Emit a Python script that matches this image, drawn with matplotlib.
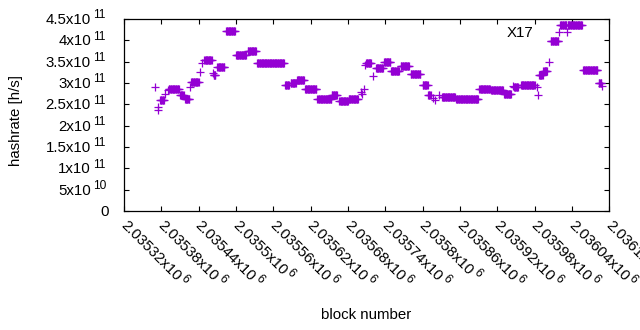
import numpy as np
import matplotlib
matplotlib.use('Agg')
import matplotlib.pyplot as plt
from matplotlib import transforms
from matplotlib.font_manager import FontProperties

# ---- data: runs of consecutive blocks sharing the same hashrate (units 1e11 h/s)
run_start = [2035370, 2035374, 2035375, 2035378, 2035386, 2035390, 2035392, 2035410,
             2035418, 2035426, 2035428, 2035442, 2035446, 2035449, 2035463, 2035464,
             2035470, 2035484, 2035500, 2035519, 2035534, 2035579, 2035588, 2035598,
             2035611, 2035631, 2035654, 2035666, 2035681, 2035701, 2035703, 2035706,
             2035708, 2035709, 2035721, 2035725, 2035738, 2035749, 2035765, 2035781,
             2035800, 2035809, 2035817, 2035820, 2035826, 2035831, 2035854, 2035891,
             2035910, 2035931, 2035945, 2035947, 2035958, 2035983, 2035985, 2035987,
             2035994, 2036003, 2036006, 2036021, 2036032, 2036033, 2036058, 2036083,
             2036089]
run_end = [2035370, 2035374, 2035375, 2035384, 2035386, 2035390, 2035408, 2035416,
           2035425, 2035426, 2035440, 2035442, 2035446, 2035461, 2035463, 2035467,
           2035481, 2035498, 2035516, 2035532, 2035577, 2035585, 2035596, 2035609,
           2035629, 2035653, 2035662, 2035680, 2035696, 2035701, 2035703, 2035706,
           2035708, 2035717, 2035721, 2035736, 2035748, 2035762, 2035778, 2035796,
           2035808, 2035813, 2035817, 2035820, 2035826, 2035852, 2035889, 2035908,
           2035929, 2035942, 2035945, 2035953, 2035980, 2035983, 2035985, 2035993,
           2036000, 2036003, 2036018, 2036031, 2036032, 2036056, 2036081, 2036087,
           2036089]
run_hashrate = [2.91, 2.43, 2.36, 2.60, 2.75, 2.84, 2.86, 2.71,
                2.62, 2.90, 3.03, 3.26, 3.46, 3.53, 3.24, 3.19,
                3.37, 4.21, 3.65, 3.76, 3.46, 2.96, 3.00, 3.08,
                2.85, 2.63, 2.72, 2.58, 2.62, 2.78, 2.74, 2.87,
                3.42, 3.46, 3.16, 3.35, 3.50, 3.29, 3.41, 3.20,
                2.95, 2.73, 2.66, 2.60, 2.73, 2.67, 2.62, 2.86,
                2.83, 2.75, 2.93, 2.91, 2.95, 2.91, 2.73, 3.18,
                3.29, 3.50, 3.98, 4.35, 4.19, 4.35, 3.30, 3.00,
                2.92]
series_label = 'X17'

y_ticks = [0, 0.5e11, 1.0e11, 1.5e11, 2.0e11, 2.5e11, 3.0e11, 3.5e11, 4.0e11, 4.5e11]
y_tick_mant = ['0', '5x10', '1x10', '1.5x10', '2x10', '2.5x10', '3x10', '3.5x10', '4x10', '4.5x10']
y_tick_exp = ['', '10', '11', '11', '11', '11', '11', '11', '11', '11']

x_ticks = [2035320, 2035380, 2035440, 2035500, 2035560, 2035620, 2035680,
           2035740, 2035800, 2035860, 2035920, 2035980, 2036040, 2036100]
x_tick_mant = ['2.03532x10', '2.03538x10', '2.03544x10', '2.0355x10', '2.03556x10',
               '2.03562x10', '2.03568x10', '2.03574x10', '2.0358x10', '2.03586x10',
               '2.03592x10', '2.03598x10', '2.03604x10', '2.0361x10']
x_tick_exp = ['6'] * 14

FONT = 'Liberation Sans'
FS = 10.8
FS_EXP = 8.6
COLOR = '#9400d3'

plt.rcParams['font.family'] = [FONT, 'DejaVu Sans']

fig = plt.figure(figsize=(6.4, 3.3), dpi=100)
W, H = 640, 330
ax_l, ax_r, ax_t, ax_b = 124, 609.3, 19, 211
ax = fig.add_axes([ax_l / W, 1 - ax_b / H, (ax_r - ax_l) / W, (ax_b - ax_t) / H])

xs = np.concatenate([np.arange(s, e + 1) for s, e in zip(run_start, run_end)])
ys = np.concatenate([np.full(e - s + 1, v) for s, e, v in zip(run_start, run_end, run_hashrate)]) * 1e11

ax.plot(xs, ys, linestyle='none', marker='+', markersize=5.2, markeredgewidth=0.9,
        color=COLOR, label=series_label)

ax.set_xlim(x_ticks[0], x_ticks[-1])
ax.set_ylim(0, 4.5e11)
ax.set_xticks(x_ticks)
ax.set_yticks(y_ticks)
ax.tick_params(direction='in', length=3.3, width=0.8, top=True, right=True,
               labelbottom=False, labelleft=False, color='black')
for sp in ax.spines.values():
    sp.set_linewidth(0.9)
    sp.set_color('black')

# y tick labels (mantissa + raised exponent)
ytrans = transforms.blended_transform_factory(ax.transAxes, ax.transData)
for v, m, e in zip(y_ticks, y_tick_mant, y_tick_exp):
    if e:
        ax.text(0, v, m, transform=transforms.offset_copy(ytrans, fig=fig, x=-33, y=-5, units='dots'),
                ha='right', va='baseline', fontsize=FS, clip_on=False)
        ax.text(0, v, e, transform=transforms.offset_copy(ytrans, fig=fig, x=-31, y=0.7, units='dots'),
                ha='left', va='baseline', fontsize=FS_EXP, clip_on=False)
    else:
        ax.text(0, v, m, transform=transforms.offset_copy(ytrans, fig=fig, x=-15, y=-5, units='dots'),
                ha='right', va='baseline', fontsize=FS, clip_on=False)

# x tick labels rotated -45 deg (mantissa + raised exponent)
renderer = fig.canvas.get_renderer()
fp = FontProperties(family=[FONT, 'DejaVu Sans'], size=FS)
xtrans = transforms.blended_transform_factory(ax.transData, ax.transAxes)
c = np.sqrt(0.5)
base_dx, base_dy = -4.0, -15.0
gap, raise_ = 1.5, 5.7
for v, m, e in zip(x_ticks, x_tick_mant, x_tick_exp):
    ax.text(v, 0, m, transform=transforms.offset_copy(xtrans, fig=fig, x=base_dx, y=base_dy, units='dots'),
            rotation=-45, rotation_mode='anchor', ha='left', va='baseline', fontsize=FS, clip_on=False)
    w = renderer.get_text_width_height_descent(m, fp, ismath=False)[0]
    dx = base_dx + c * (w + gap) + c * raise_
    dy = base_dy - c * (w + gap) + c * raise_
    ax.text(v, 0, e, transform=transforms.offset_copy(xtrans, fig=fig, x=dx, y=dy, units='dots'),
            rotation=-45, rotation_mode='anchor', ha='left', va='baseline', fontsize=FS_EXP, clip_on=False)

fig.text(16.5 / W, 1 - 120 / H, 'hashrate [h/s]', rotation=90, ha='center', va='center', fontsize=FS)
fig.text(366 / W, 1 - 315 / H, 'block number', ha='center', va='center', fontsize=FS)

ax.legend(loc='upper right', bbox_to_anchor=((574 - ax_l) / (ax_r - ax_l), 1 - (26 - ax_t) / (ax_b - ax_t)),
          markerfirst=False, frameon=False, borderpad=0, borderaxespad=0, handlelength=2.0,
          handletextpad=0.7, fontsize=FS, markerscale=1.0)

fig.savefig('out.png', dpi=100)
